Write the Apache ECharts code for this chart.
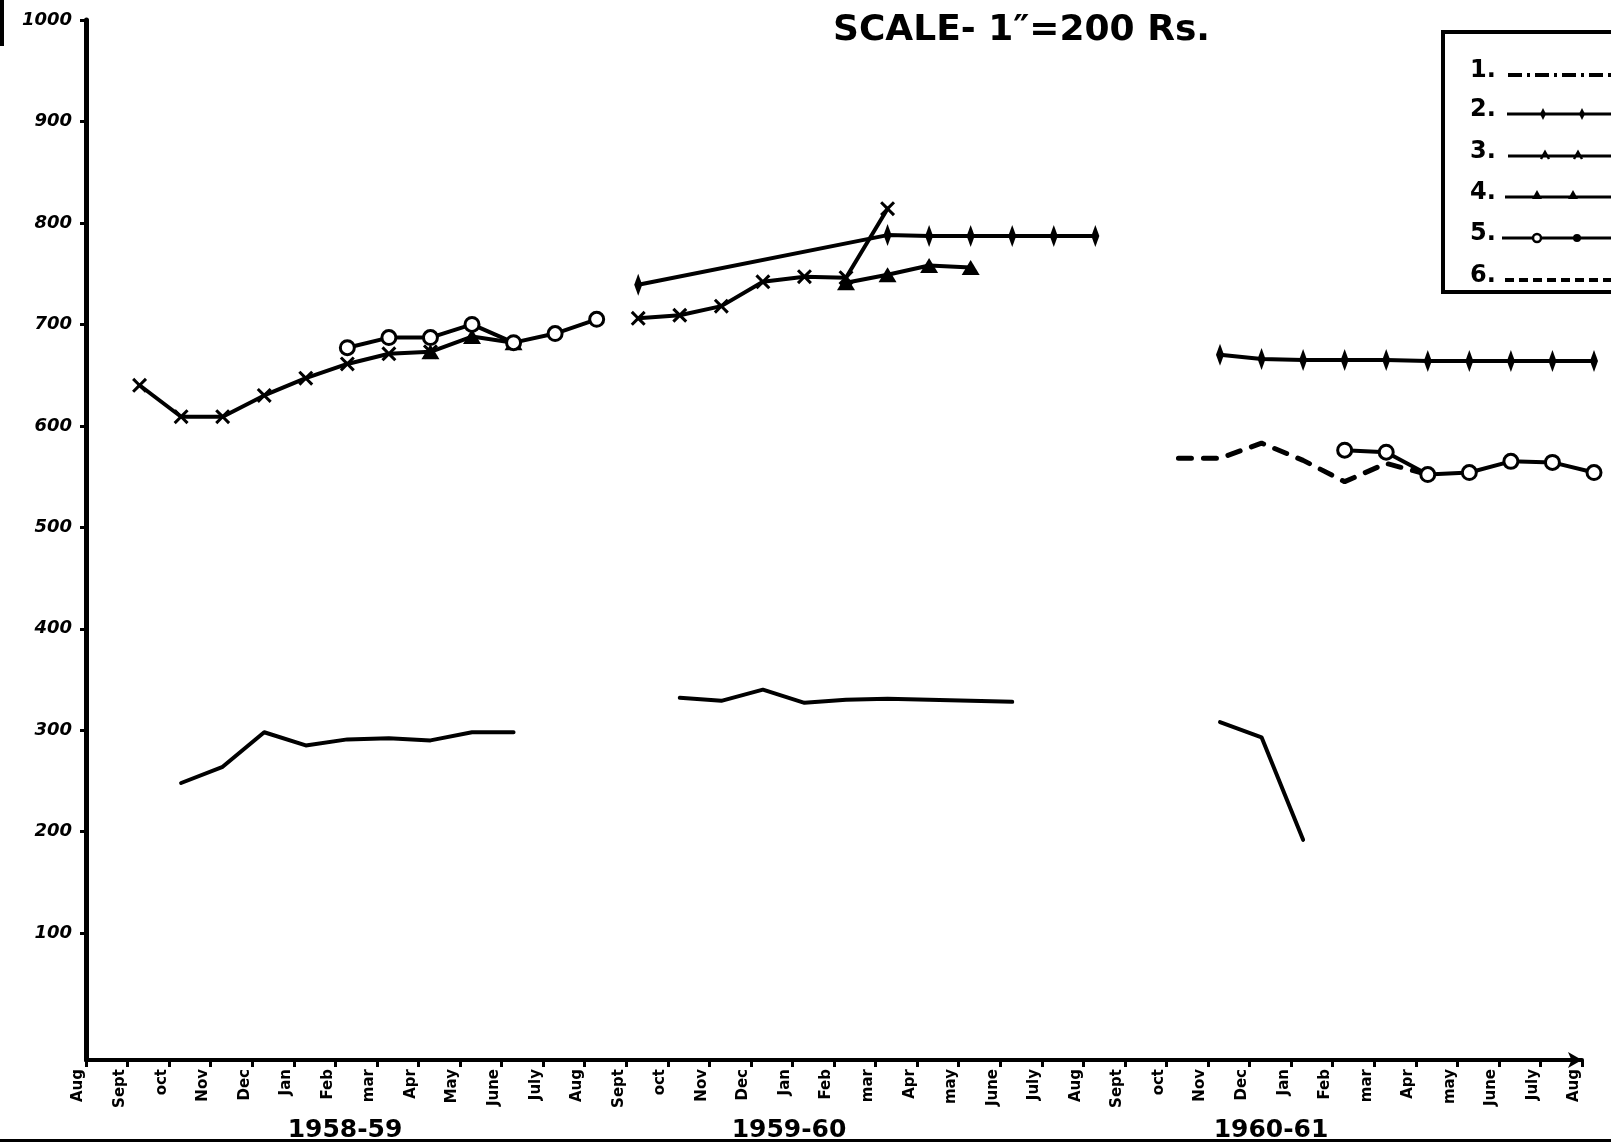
<!DOCTYPE html>
<html><head><meta charset="utf-8">
<script src="https://cdn.jsdelivr.net/npm/echarts@6/dist/echarts.min.js"></script>
<style>html,body{margin:0;padding:0;background:#fff}#c{width:1611px;height:1142px}</style>
</head><body><div id="c"></div>
<script>
// ---- data ----
const categories = ['Aug 1958','Sep 1958','Oct 1958','Nov 1958','Dec 1958','Jan 1959','Feb 1959','Mar 1959','Apr 1959','May 1959','Jun 1959','Jul 1959','Aug 1959','Sep 1959','Oct 1959','Nov 1959','Dec 1959','Jan 1960','Feb 1960','Mar 1960','Apr 1960','May 1960','Jun 1960','Jul 1960','Aug 1960','Sep 1960','Oct 1960','Nov 1960','Dec 1960','Jan 1961','Feb 1961','Mar 1961','Apr 1961','May 1961','Jun 1961','Jul 1961','Aug 1961'];
const tickLabels = ['Aug','Sept','oct','Nov','Dec','Jan','Feb','mar','Apr','May','June','July','Aug','Sept','oct','Nov','Dec','Jan','Feb','mar','Apr','may','June','July','Aug','Sept','oct','Nov','Dec','Jan','Feb','mar','Apr','may','June','July','Aug'];
const yearLabels = ['1958-59','1959-60','1960-61'];
const yTicks = [100,200,300,400,500,600,700,800,900,1000];
const legendNames = ['1.','2.','3.','4.','5.','6.'];
const _ = null;
const s1  = [_,_,248,264,298,285,291,292,290,298,298,_,_,_,332,329,340,327,330,331,330,329,328,_,_,_,_,308,293,192,_,_,_,_,_,_,_];
const s2a = [_,_,_,_,_,_,_,_,_,_,_,_,_,739,_,_,_,_,_,788,787,787,787,787,787,_,_,_,_,_,_,_,_,_,_,_,_];
const s2b = [_,_,_,_,_,_,_,_,_,_,_,_,_,_,_,_,_,_,_,_,_,_,_,_,_,_,_,670,666,665,665,665,664,664,664,664,664];
const s3  = [_,640,609,609,630,647,661,671,673,_,_,_,_,706,709,718,742,747,746,814,_,_,_,_,_,_,_,_,_,_,_,_,_,_,_,_,_];
const s4  = [_,_,_,_,_,_,_,_,673,688,682,_,_,_,_,_,_,_,741,749,758,756,_,_,_,_,_,_,_,_,_,_,_,_,_,_,_];
const s5  = [_,_,_,_,_,_,677,687,687,700,682,691,705,_,_,_,_,_,_,_,_,_,_,_,_,_,_,_,_,_,576,574,552,554,565,564,554];
const s6  = [_,_,_,_,_,_,_,_,_,_,_,_,_,_,_,_,_,_,_,_,_,_,_,_,_,_,568,568,583,566,545,563,552,_,_,_,_];

// ---- styles ----
const K = '#000';
const FONT = 'DejaVu Sans';
const symPlus = 'path://M4 0 L8 11 L4 22 L0 11 Z';
const symX = 'path://M0 2 L2 0 L7 5 L12 0 L14 2 L9 7 L14 12 L12 14 L7 9 L2 14 L0 12 L5 7 Z';

function line(name, data, extra) {
  return Object.assign({
    name: name, type: 'line', data: data, xAxisIndex: 1, yAxisIndex: 1,
    connectNulls: false, animation: false,
    lineStyle: {color: K, width: 4, cap: 'round', join: 'round'},
    itemStyle: {color: K}
  }, extra);
}

const chart = echarts.init(document.getElementById('c'), null, {renderer: 'canvas'});

// legend drawn as graphic (numbers followed by the line sample)
const LX = 1443, LY = 32;
const rowY = [75, 114, 156, 197, 238, 280];
const legendGraphic = [{
  type: 'rect', z: 100, shape: {x: LX, y: LY, width: 260, height: 260},
  style: {fill: '#fff', stroke: K, lineWidth: 4}
}];
legendNames.forEach((n, i) => {
  legendGraphic.push({type: 'text', z: 101, x: 1470, y: rowY[i] - 4,
    style: {text: n, font: 'bold 24px "' + FONT + '"', fill: K, textVerticalAlign: 'middle'}});
});
// samples
legendGraphic.push({type:'polyline', z:101, shape:{points:[[1508,rowY[0]],[1611,rowY[0]]]}, style:{stroke:K, lineWidth:4, lineDash:[14,5,3,5]}});
legendGraphic.push({type:'polyline', z:101, shape:{points:[[1507,rowY[1]],[1611,rowY[1]]]}, style:{stroke:K, lineWidth:3}});
[1543,1582].forEach(x => legendGraphic.push({type:'polygon', z:102, shape:{points:[[x,rowY[1]-6],[x+3,rowY[1]],[x,rowY[1]+6],[x-3,rowY[1]]]}, style:{fill:K}}));
legendGraphic.push({type:'polyline', z:101, shape:{points:[[1508,rowY[2]],[1611,rowY[2]]]}, style:{stroke:K, lineWidth:3}});
[1545,1578].forEach(x => legendGraphic.push({type:'polyline', z:102, shape:{points:[[x-4,rowY[2]+3],[x,rowY[2]-4],[x+4,rowY[2]+3]]}, style:{stroke:K, lineWidth:2.5, fill:null}}));
legendGraphic.push({type:'polyline', z:101, shape:{points:[[1505,rowY[3]],[1611,rowY[3]]]}, style:{stroke:K, lineWidth:3}});
[1537,1573].forEach(x => legendGraphic.push({type:'polygon', z:102, shape:{points:[[x-5,rowY[3]+2],[x,rowY[3]-7],[x+5,rowY[3]+2]]}, style:{fill:K}}));
legendGraphic.push({type:'polyline', z:101, shape:{points:[[1502,rowY[4]],[1611,rowY[4]]]}, style:{stroke:K, lineWidth:3}});
legendGraphic.push({type:'circle', z:102, shape:{cx:1537, cy:rowY[4], r:4}, style:{fill:'#fff', stroke:K, lineWidth:2.5}});
legendGraphic.push({type:'circle', z:102, shape:{cx:1577, cy:rowY[4], r:4}, style:{fill:K}});
legendGraphic.push({type:'polyline', z:101, shape:{points:[[1505,rowY[5]],[1611,rowY[5]]]}, style:{stroke:K, lineWidth:4, lineDash:[9,5]}});

const yearPos = [[345, 1130], [789, 1130], [1271, 1130]];
const yearGraphic = yearLabels.map((t, i) => ({
  type: 'text', x: yearPos[i][0], y: yearPos[i][1],
  style: {text: t, font: 'bold 25px "' + FONT + '"', fill: K, textAlign: 'center', textVerticalAlign: 'middle'}
}));

const option = {
  backgroundColor: '#fff',
  animation: false,
  title: {
    text: 'SCALE- 1\u2033=200 Rs.', left: 828, top: 8,
    textStyle: {fontFamily: FONT, fontSize: 36, fontWeight: 'bold', color: K}
  },
  grid: [
    {left: 86, right: 29, top: 20, bottom: 82},
    {left: 98, right: 17, top: 20, bottom: 82}
  ],
  xAxis: [{
    type: 'category', gridIndex: 0, data: categories, boundaryGap: false,
    axisLine: {onZero: false, lineStyle: {color: K, width: 4}, symbol: ['none', 'arrow'], symbolSize: [12, 14]},
    axisTick: {interval: 0, length: 7, lineStyle: {color: K, width: 3}},
    axisLabel: {interval: 0, rotate: 90, margin: 9, color: K, fontFamily: FONT, fontSize: 15, fontWeight: 'bold',
      verticalAlign: 'bottom', formatter: (v, i) => tickLabels[i]},
    splitLine: {show: false}
  }, {
    type: 'category', gridIndex: 1, data: categories, boundaryGap: false, show: false
  }],
  yAxis: [{
    type: 'value', gridIndex: 0, min: -25, max: 1000,
    axisLine: {show: true, lineStyle: {color: K, width: 5}},
    axisTick: {show: true, customValues: yTicks, length: 6, lineStyle: {color: K, width: 3}},
    axisLabel: {customValues: yTicks, margin: 14, color: K, fontFamily: FONT, fontSize: 18,
      fontWeight: 'bold', fontStyle: 'italic', formatter: v => String(v)},
    splitLine: {show: false}
  }, {
    type: 'value', gridIndex: 1, min: -25, max: 1000, show: false, splitLine: {show: false}
  }],
  series: [
    line('1.', s1, {symbol: 'none'}),
    line('2.', s2a, {symbol: symPlus, symbolSize: [8, 22], connectNulls: true}),
    line('2.', s2b, {symbol: symPlus, symbolSize: [8, 22]}),
    line('3.', s3, {symbol: symX, symbolSize: 15}),
    line('4.', s4, {symbol: 'triangle', symbolSize: [18, 15]}),
    line('5.', s5, {symbol: 'circle', symbolSize: 14, itemStyle: {color: '#fff', borderColor: K, borderWidth: 3}}),
    line('6.', s6, {symbol: 'none', lineStyle: {color: K, width: 5, type: [13, 12], cap: 'round'}})
  ],
  graphic: [
    {type: 'rect', shape: {x: 0, y: 0, width: 4, height: 46}, style: {fill: K}},
    {type: 'rect', shape: {x: 0, y: 1139, width: 1611, height: 3}, style: {fill: K}}
  ].concat(yearGraphic, legendGraphic)
};
chart.setOption(option);
</script>
</body></html>
